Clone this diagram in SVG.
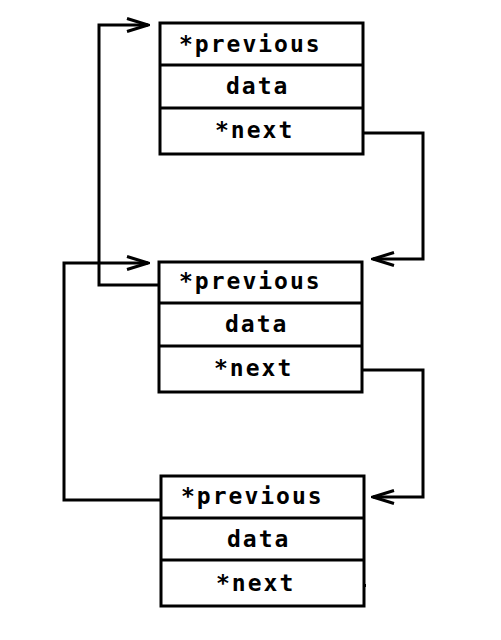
<svg xmlns="http://www.w3.org/2000/svg" width="501" height="640" viewBox="0 0 501 640">
<defs>
<style>
.box{fill:#fff;stroke:#000;stroke-width:3}
.div{stroke:#000;stroke-width:3}
.t{font-family:"DejaVu Sans Mono","Liberation Mono",monospace;font-weight:bold;font-size:23px;letter-spacing:2px;fill:#000}
.c{fill:none;stroke:#000;stroke-width:3;stroke-linejoin:miter}
</style>
<marker id="arr" viewBox="0 0 24 16" markerWidth="24" markerHeight="16" markerUnits="userSpaceOnUse" refX="22" refY="8" orient="auto">
<path d="M1,1.5 L22,8 L1,14.5" fill="none" stroke="#000" stroke-width="3"/>
</marker>
</defs>
<rect width="501" height="640" fill="#fff"/>
<g id="connectors">
<path class="c" d="M159,285 H99 V25 H148" marker-end="url(#arr)"/>
<path class="c" d="M363,133 H423 V259 H373" marker-end="url(#arr)"/>
<path class="c" d="M161,500 H64 V263 H148" marker-end="url(#arr)"/>
<path class="c" d="M362,370 H423 V497 H373" marker-end="url(#arr)"/>
<rect x="364" y="584" width="2" height="3" fill="#000"/>
</g>
<g id="node1">
<rect class="box" x="160" y="23" width="203" height="131"/>
<line class="div" x1="160" y1="65" x2="363" y2="65"/>
<line class="div" x1="160" y1="108" x2="363" y2="108"/>
<text class="t" x="179" y="52">*previous</text>
<text class="t" x="226" y="94">data</text>
<text class="t" x="215" y="138">*next</text>
</g>
<g id="node2">
<rect class="box" x="159" y="262" width="203" height="130"/>
<line class="div" x1="159" y1="303" x2="362" y2="303"/>
<line class="div" x1="159" y1="346" x2="362" y2="346"/>
<text class="t" x="179" y="289">*previous</text>
<text class="t" x="225" y="332">data</text>
<text class="t" x="214" y="376">*next</text>
</g>
<g id="node3">
<rect class="box" x="161" y="476" width="203" height="130"/>
<line class="div" x1="161" y1="518" x2="364" y2="518"/>
<line class="div" x1="161" y1="560" x2="364" y2="560"/>
<text class="t" x="181" y="504">*previous</text>
<text class="t" x="227" y="547">data</text>
<text class="t" x="216" y="591">*next</text>
</g>
</svg>
